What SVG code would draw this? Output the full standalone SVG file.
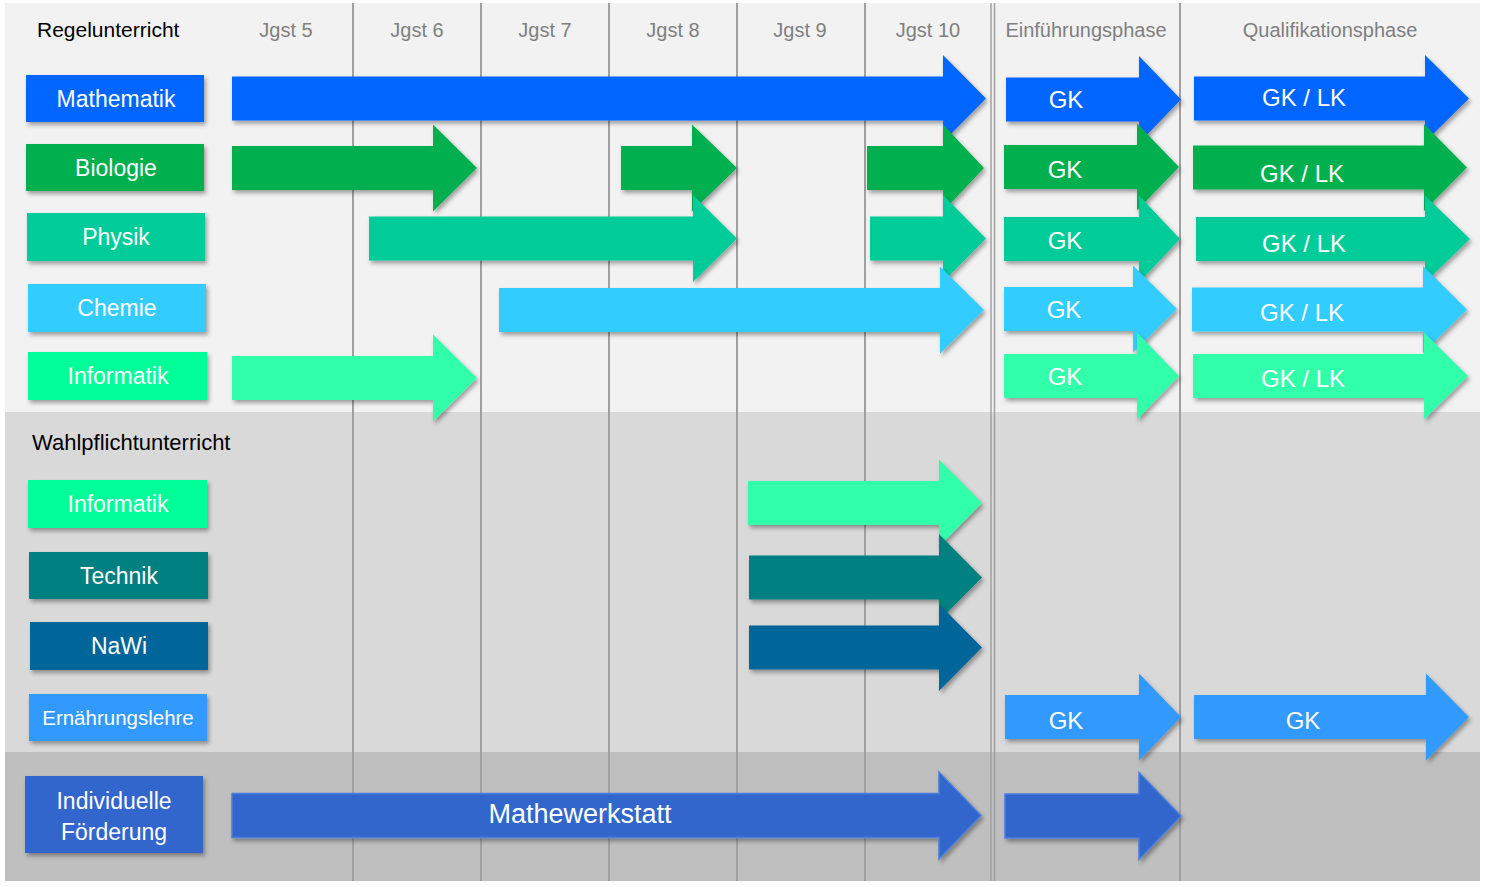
<svg xmlns="http://www.w3.org/2000/svg" width="1486" height="887" viewBox="0 0 1486 887">
<defs>
<filter id="sh" x="-5%" y="-20%" width="115%" height="150%">
<feDropShadow dx="2" dy="3" stdDeviation="2" flood-color="#000" flood-opacity="0.35"/>
</filter>
<style>
.hdr{font-family:"Liberation Sans",Arial,sans-serif;font-size:20px;fill:#7f7f7f;text-anchor:middle}
.sec{font-family:"Liberation Sans",Arial,sans-serif;font-size:21px;fill:#000}
.lbl{font-family:"Liberation Sans",Arial,sans-serif;font-size:23px;fill:#fff;text-anchor:middle}
.at{font-family:"Liberation Sans",Arial,sans-serif;font-size:24px;fill:#fff;text-anchor:middle}
.grid{stroke:#a0a0a0;stroke-width:2}
.box,.arr{filter:url(#sh)}
</style>
</defs>
<rect width="1486" height="887" fill="#fff"/>
<rect x="5" y="3" width="1475" height="409" fill="#f2f2f2"/>
<rect x="5" y="412" width="1475" height="340" fill="#d9d9d9"/>
<rect x="5" y="752" width="1475" height="129" fill="#bfbfbf"/>
<g id="grid">
<line class="grid" x1="353" y1="3" x2="353" y2="881"/>
<line class="grid" x1="481" y1="3" x2="481" y2="881"/>
<line class="grid" x1="609" y1="3" x2="609" y2="881"/>
<line class="grid" x1="737" y1="3" x2="737" y2="881"/>
<line class="grid" x1="865" y1="3" x2="865" y2="881"/>
<line class="grid" x1="991" y1="3" x2="991" y2="881" style="stroke-width:1.5"/>
<line class="grid" x1="994.5" y1="3" x2="994.5" y2="881" style="stroke-width:1.5"/>
<line class="grid" x1="1180" y1="3" x2="1180" y2="881"/>
</g>
<g id="headers">
<text class="sec" x="37" y="37">Regelunterricht</text>
<text class="hdr" x="286" y="37">Jgst 5</text>
<text class="hdr" x="417" y="37">Jgst 6</text>
<text class="hdr" x="545" y="37">Jgst 7</text>
<text class="hdr" x="673" y="37">Jgst 8</text>
<text class="hdr" x="800" y="37">Jgst 9</text>
<text class="hdr" x="928" y="37">Jgst 10</text>
<text class="hdr" x="1086" y="37">Einführungsphase</text>
<text class="hdr" x="1330" y="37">Qualifikationsphase</text>
<text class="sec" x="32" y="450" style="font-size:22px">Wahlpflichtunterricht</text>
</g>
<g id="labels">
<g id="n-mathematik"><rect class="box" x="26" y="75" width="178" height="47" fill="#0066ff"/><text class="lbl" x="116" y="107">Mathematik</text></g>
<g id="n-biologie"><rect class="box" x="26" y="144" width="178" height="47" fill="#00b050"/><text class="lbl" x="116" y="176">Biologie</text></g>
<g id="n-physik"><rect class="box" x="27" y="213" width="178" height="48" fill="#00cc99"/><text class="lbl" x="116" y="245">Physik</text></g>
<g id="n-chemie"><rect class="box" x="28" y="284" width="178" height="48" fill="#33ccff"/><text class="lbl" x="117" y="316">Chemie</text></g>
<g id="n-informatik"><rect class="box" x="28" y="352" width="179" height="48" fill="#00ff99"/><text class="lbl" x="118" y="384">Informatik</text></g>
<g id="n-informatik-wp"><rect class="box" x="28" y="480" width="179" height="48" fill="#00ff99"/><text class="lbl" x="118" y="512">Informatik</text></g>
<g id="n-technik"><rect class="box" x="29" y="552" width="179" height="47" fill="#008080"/><text class="lbl" x="119" y="584">Technik</text></g>
<g id="n-nawi"><rect class="box" x="30" y="622" width="178" height="48" fill="#006699"/><text class="lbl" x="119" y="654">NaWi</text></g>
<g id="n-ernaehrung"><rect class="box" x="29" y="694" width="178" height="47" fill="#3399ff"/><text class="lbl" x="118" y="725" style="font-size:20.5px">Ernährungslehre</text></g>
<g id="n-foerderung"><rect class="box" x="25" y="776" width="178" height="77" fill="#3366cc"/><text class="lbl" x="114" y="809">Individuelle</text><text class="lbl" x="114" y="840">Förderung</text></g>
</g>
<g id="connectors">
<g id="r-math" fill="#0066ff">
<path class="arr" d="M232,76.5H943V55L986,98.5L943,142V120.5H232Z"/>
<path class="arr" d="M1006,77.5H1139V56L1181,99.5L1139,143V121.5H1006Z"/>
<path class="arr" d="M1194,76.5H1425V55L1469,98.5L1425,142V120.5H1194Z"/>
</g>
<g id="r-bio" fill="#00b050">
<path class="arr" d="M232,146H433V124.5L477,168L433,211.5V190H232Z"/>
<path class="arr" d="M621,146H692V124.5L737,168L692,211.5V190H621Z"/>
<path class="arr" d="M867,146H943V124.5L984,168L943,211.5V190H867Z"/>
<path class="arr" d="M1004,145H1137V123.5L1179,167L1137,210.5V189H1004Z"/>
<path class="arr" d="M1193,145.5H1424V124L1467,167.5L1424,211V189.5H1193Z"/>
</g>
<g id="r-phys" fill="#00cc99">
<path class="arr" d="M369,216.5H693V195L737,238.5L693,282V260.5H369Z"/>
<path class="arr" d="M870,216.5H943V195L986,238.5L943,282V260.5H870Z"/>
<path class="arr" d="M1004,217H1139V195.5L1180,239L1139,282.5V261H1004Z"/>
<path class="arr" d="M1196,217H1425V195.5L1470,239L1425,282.5V261H1196Z"/>
</g>
<g id="r-chem" fill="#33ccff">
<path class="arr" d="M499,288H940V266.5L984,310L940,353.5V332H499Z"/>
<path class="arr" d="M1004,287H1133V265.5L1177,309L1133,352.5V331H1004Z"/>
<path class="arr" d="M1192,287.5H1423V266L1467,309.5L1423,353V331.5H1192Z"/>
</g>
<g id="r-inf" fill="#33ffaa">
<path class="arr" d="M232,356H433V334.5L477,378L433,421.5V400H232Z"/>
<path class="arr" d="M1004,354H1137V332.5L1179,376L1137,419.5V398H1004Z"/>
<path class="arr" d="M1193,354H1424V332.5L1468,376L1424,419.5V398H1193Z"/>
</g>
<g id="r-inf-wp" fill="#33ffaa">
<path class="arr" d="M748,481H939V459.5L982,503L939,546.5V525H748Z"/>
</g>
<g id="r-tech" fill="#008080">
<path class="arr" d="M749,555.5H939V534L982,577.5L939,621V599.5H749Z"/>
</g>
<g id="r-nawi" fill="#006699">
<path class="arr" d="M749,625.5H939V604L982,647.5L939,691V669.5H749Z"/>
</g>
<g id="r-ern" fill="#3399ff">
<path class="arr" d="M1005,695H1139V673.5L1181,717L1139,760.5V739H1005Z"/>
<path class="arr" d="M1194,695H1426V673.5L1469,717L1426,760.5V739H1194Z"/>
</g>
<g id="r-foerd" fill="#3366cc" stroke="#4a7fdc" stroke-width="1.5">
<path class="arr" d="M232,793.5H939V772L981,815.5L939,859V837.5H232Z"/>
<path class="arr" d="M1005,794H1139V772.5L1181,816L1139,859.5V838H1005Z"/>
</g>
</g>
<g id="arrow-labels">
<text class="at" x="1066" y="108">GK</text>
<text class="at" x="1304" y="106">GK / LK</text>
<text class="at" x="1065" y="178">GK</text>
<text class="at" x="1302" y="182">GK / LK</text>
<text class="at" x="1065" y="249">GK</text>
<text class="at" x="1304" y="252">GK / LK</text>
<text class="at" x="1064" y="318">GK</text>
<text class="at" x="1302" y="321">GK / LK</text>
<text class="at" x="1065" y="385">GK</text>
<text class="at" x="1303" y="387">GK / LK</text>
<text class="at" x="1066" y="729">GK</text>
<text class="at" x="1303" y="729">GK</text>
<text class="at" x="580" y="823" style="font-size:27px">Mathewerkstatt</text>
</g>
</svg>
